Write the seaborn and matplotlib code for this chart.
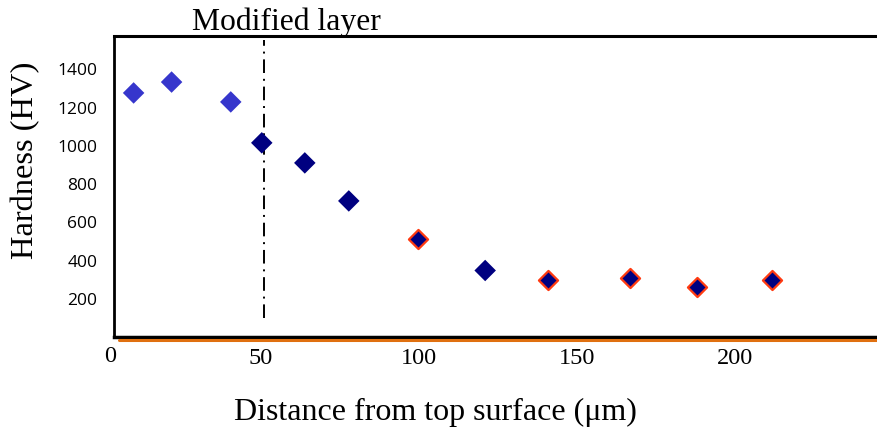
import matplotlib
matplotlib.use("Agg")
import matplotlib.pyplot as plt
import seaborn as sns
import pandas as pd
from matplotlib.lines import Line2D

# Data
distance = [9.8, 21.8, 40.5, 50.3, 63.9, 77.8, 99.7, 120.9, 140.8, 166.8, 188.0, 211.7]
hardness = [1277, 1334, 1230, 1016, 911, 712, 514, 348, 296, 311, 264, 296]
group = ["surface", "surface", "surface", "core", "core", "core",
         "edged", "core", "edged", "edged", "edged", "edged"]
layer_depth = 51
layer_span = [102, 1554]
x_ticks = [50, 100, 150, 200]
y_ticks = [200, 400, 600, 800, 1000, 1200, 1400]

df = pd.DataFrame({"distance": distance, "hardness": hardness, "group": group})

sns.set_style("white")
plt.rcParams["text.color"] = "black"
plt.rcParams["xtick.color"] = "black"
plt.rcParams["ytick.color"] = "black"
plt.rcParams["axes.labelcolor"] = "black"

fig = plt.figure(figsize=(8.78, 4.34), dpi=100)
ax = fig.add_axes([114/878, 97/434, 1 - 114/878 + 0.002, 301/434])

sns.scatterplot(data=df[df.group == "surface"], x="distance", y="hardness", ax=ax,
                marker="D", s=120, color="#3636CC", edgecolor="none", linewidth=0, zorder=3)
sns.scatterplot(data=df[df.group == "core"], x="distance", y="hardness", ax=ax,
                marker="D", s=120, color="#000080", edgecolor="none", linewidth=0, zorder=3)
sns.scatterplot(data=df[df.group == "edged"], x="distance", y="hardness", ax=ax,
                marker="D", s=95, color="#000080", edgecolor="#FF3A10", linewidth=1.6, zorder=3)

ax.plot([layer_depth, layer_depth], layer_span, color="black", lw=1.4,
        linestyle=(0, (7, 3, 1, 3)), zorder=2)

ax.set_xlim(3.6, 245.6)
ax.set_ylim(0, 1575)
ax.set_xticks(x_ticks)
ax.set_yticks(y_ticks)
ax.set_xticklabels([str(t) for t in x_ticks], fontfamily="Liberation Serif", fontsize=17.5)
ax.set_yticklabels([str(t) for t in y_ticks], fontfamily="Open Sans", fontsize=12.5)
ax.tick_params(axis="x", direction="inout", length=8, width=1, color="black", pad=4)
ax.tick_params(axis="y", length=0, pad=12)

ax.spines["right"].set_visible(False)
for sp in ["left", "top", "bottom"]:
    ax.spines[sp].set_color("black")
ax.spines["left"].set_linewidth(2)
ax.spines["top"].set_linewidth(2.2)
ax.spines["bottom"].set_linewidth(2.5)

ax.set_xlabel("")
ax.set_ylabel("")
fig.text(435/878, 1 - 412/434, "Distance from top surface (\u03bcm)",
         fontfamily="Liberation Serif", fontsize=23, ha="center", va="center")
fig.text(26/878, 1 - 160/434, "Hardness (HV)", fontfamily="Liberation Serif",
         fontsize=23.4, ha="center", va="center", rotation=90)

# "0" origin label and orange underline of the x axis
fig.text(110/878, 1 - 357/434, "0", fontfamily="Liberation Serif", fontsize=17.5,
         ha="center", va="center")
fig.add_artist(Line2D([119/878, 1], [1 - 339.5/434, 1 - 339.5/434],
                      color="#E07010", lw=2.2))

fig.text(286/878, 1 - 22/434, "Modified layer", fontfamily="Liberation Serif",
         fontsize=22.8, ha="center", va="center")

fig.savefig("out.png", dpi=100)
